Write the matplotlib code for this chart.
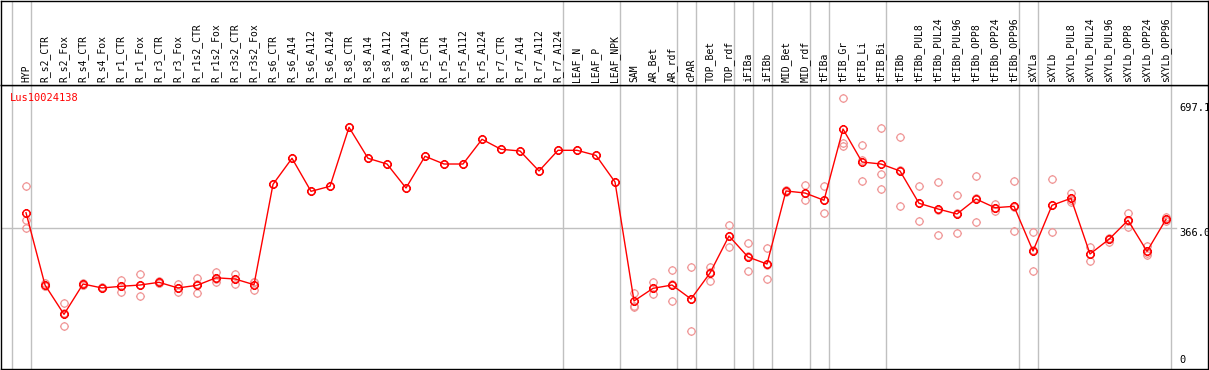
import matplotlib.pyplot as plt
from matplotlib.path import Path
import numpy as np

# column labels (samples)
labels = ["HYP", "R_s2_CTR", "R_s2_Fox", "R_s4_CTR", "R_s4_Fox", "R_r1_CTR", "R_r1_Fox",
          "R_r3_CTR", "R_r3_Fox", "R_r1s2_CTR", "R_r1s2_Fox", "R_r3s2_CTR", "R_r3s2_Fox",
          "R_s6_CTR", "R_s6_A14", "R_s6_A112", "R_s6_A124", "R_s8_CTR", "R_s8_A14",
          "R_s8_A112", "R_s8_A124", "R_r5_CTR", "R_r5_A14", "R_r5_A112", "R_r5_A124",
          "R_r7_CTR", "R_r7_A14", "R_r7_A112", "R_r7_A124", "LEAF_N", "LEAF_P", "LEAF_NPK",
          "SAM", "AR_Bet", "AR_rdf", "cPAR", "TOP_Bet", "TOP_rdf", "iFIBa", "iFIBb",
          "MID_Bet", "MID_rdf", "tFIBa", "tFIB_Gr", "tFIB_Li", "tFIB_Bi", "tFIBb",
          "tFIBb_PUL8", "tFIBb_PUL24", "tFIBb_PUL96", "tFIBb_OPP8", "tFIBb_OPP24",
          "tFIBb_OPP96", "sXYLa", "sXYLb", "sXYLb_PUL8", "sXYLb_PUL24", "sXYLb_PUL96",
          "sXYLb_OPP8", "sXYLb_OPP24", "sXYLb_OPP96"]

# mean expression per sample
means = [405.8, 213.8, 136, 216.5, 206, 210.3, 213.8, 221, 206, 213, 233, 229.8, 214.7,
         481.2, 550.3, 462.6, 476, 632.6, 550.3, 535.1, 471.4, 555.6, 535.1, 535.1, 600.7,
         574.2, 569.7, 516.6, 571.5, 571.5,
         558, 487.3, 171.4, 205, 213.8, 176.7, 245.7, 344, 288.2, 269.6, 463.5, 458.1,
         438.8, 628, 540.5, 535.1,
         516.6, 430.8, 415.7, 402.4, 442.2, 419.1, 422.8, 304.1, 425.5, 444, 296.2, 335.2,
         385.6, 303.3, 388.3]

# replicate values per sample
reps = [[476, 386, 366], [218, 212, 211], [165, 139, 104], [219, 215, 215],
        [208, 205, 205], [226, 210, 194.5], [242, 215, 184], [224, 220, 219],
        [217, 206, 194.5], [231.6, 216, 192], [249, 230, 221], [242, 231, 216.5],
        [222.6, 221, 200.6],
        [481.2], [550.3], [462.6], [476], [632.6], [550.3], [535.1], [471.4], [555.6],
        [535.1], [535.1], [600.7], [574.2], [569.7], [516.6], [571.5], [571.5], [558],
        [487.3],
        [193.4, 158, 155.4], [221.8, 205, 189], [252.9, 217, 171.4], [261.6, 177, 91.7],
        [262.4, 249, 225.3], [373.2, 344, 314.8], [324.6, 290, 250.2], [312.1, 268, 229],
        [466, 463, 461], [478.6, 457, 438.8], [476, 438.8, 404.2], [709.6, 590, 583.8],
        [584.8, 545.8, 490], [630.7, 507.8, 468], [606, 520, 423.6], [476, 432, 383.8],
        [487.3, 413, 346.6], [452, 404, 351], [502.5, 444, 380.3], [428, 418, 411],
        [490, 422, 356.4], [353.8, 308, 250.2], [495.3, 427, 353.8], [459, 440, 433.4],
        [315.5, 295, 278.4], [338, 335, 328.8], [405, 385, 367], [316.6, 299, 294.4],
        [394.4, 388, 385]]

# group separators (after these columns)
separators = [-1, 0, 28, 31, 34, 35, 37, 38, 39, 41, 42, 45, 52, 53, 60]
ref_ticks = [697.1, 366.0]
gene = "Lus10024138"

# circle marker with four tiny ticks
ang = np.linspace(0, 2 * np.pi, 41)
r0 = 0.8
verts = [(r0 * np.cos(a), r0 * np.sin(a)) for a in ang]
codes = [Path.MOVETO] + [Path.LINETO] * (len(ang) - 1)
verts += [(0, r0), (0, 1), (0, -r0), (0, -1), (r0, 0), (1, 0), (-r0, 0), (-1, 0)]
codes += [Path.MOVETO, Path.LINETO] * 4
gear = Path(verts, codes)

W, H = 1209, 370
fig = plt.figure(figsize=(W / 100, H / 100), dpi=100)
ax = fig.add_axes([1 / W, 1 / H, 1207 / W, 284 / H])
hx = fig.add_axes([1 / W, 285 / H, 1207 / W, 84 / H], sharex=ax)

x = np.arange(len(labels))
xlim = (-1.316, 62.21)
ax.set_xlim(*xlim)
ax.set_ylim(-9.2, 744.9)
hx.set_ylim(0, 1)

for s in separators:
    ax.axvline(s + 0.24, color="#c0c0c0", lw=1, zorder=0)
    hx.axvline(s + 0.24, color="#c0c0c0", lw=1, zorder=0)
ax.plot([xlim[0], 60.55], [366.0, 366.0], color="#c0c0c0", lw=1, zorder=0)

for i, r in enumerate(reps):
    ax.plot([i] * len(r), r, linestyle="none", marker=gear, ms=6.5, mew=0.9,
            mfc="none", mec="#f09898", zorder=2)
ax.plot(x, means, color="red", lw=1, marker=gear, ms=6.5, mew=1.1,
        mfc="none", mec="red", zorder=3)

mono = "DejaVu Sans Mono"
for i, lab in enumerate(labels):
    hx.text(i, 0.03, lab, rotation=90, ha="center", va="bottom", fontsize=7, family=mono)

ax.text(-0.84, 723, gene, color="red", fontsize=7.5, family=mono, va="top", ha="left")
for t in ref_ticks:
    ax.text(60.68, t, f"{t:.1f}", fontsize=7.5, family=mono, va="top", ha="left")
ax.text(60.68, 2, "0", fontsize=7.5, family=mono, va="bottom", ha="left")

for a in (ax, hx):
    a.set_xticks([])
    a.set_yticks([])
    for sp in a.spines.values():
        sp.set_color("black")
        sp.set_linewidth(1)

fig.savefig("out.png", dpi=100)
